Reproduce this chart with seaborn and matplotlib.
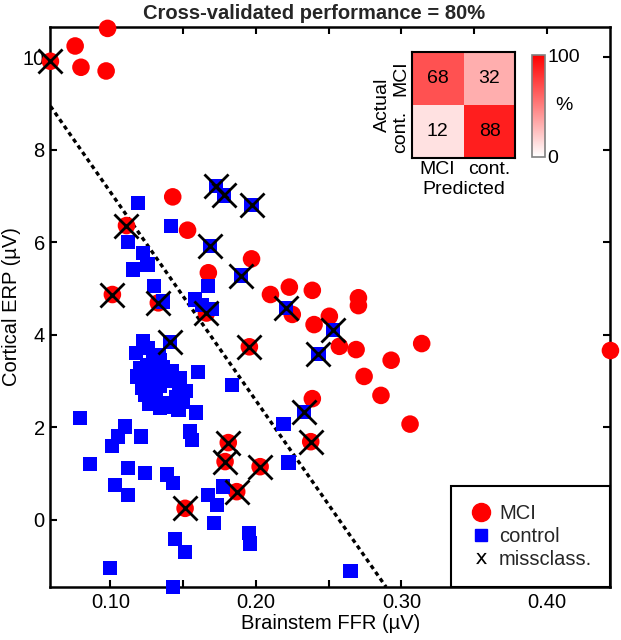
import numpy as np
import pandas as pd
import seaborn as sns
import matplotlib.pyplot as plt
from matplotlib.lines import Line2D
from matplotlib.colors import LinearSegmentedColormap
from matplotlib.ticker import MultipleLocator, FuncFormatter

# MCI group (red circles), miss = misclassified
mci_x = [0.0587, 0.0757, 0.0797, 0.0980, 0.0970, 0.1110, 0.1428, 0.1530, 0.1970, 0.1673,
         0.1013, 0.1329, 0.1660, 0.2100, 0.2230, 0.2388, 0.2250, 0.2705, 0.2705, 0.2505,
         0.2400, 0.2574, 0.2689, 0.1955, 0.3140, 0.2930, 0.2744, 0.2860, 0.3060, 0.2388,
         0.2377, 0.1810, 0.1788, 0.2029, 0.1868, 0.1513, 0.4438]
mci_y = [9.91, 10.24, 9.78, 10.62, 9.70, 6.36, 6.98, 6.26, 5.64, 5.34,
         4.87, 4.69, 4.47, 4.87, 5.03, 4.96, 4.44, 4.80, 4.63, 4.40,
         4.22, 3.75, 3.68, 3.74, 3.81, 3.45, 3.10, 2.69, 2.07, 2.62,
         1.69, 1.67, 1.26, 1.15, 0.61, 0.25, 3.66]
mci_miss = [1, 0, 0, 0, 0, 1, 0, 0, 0, 0,
            1, 1, 1, 0, 0, 0, 0, 0, 0, 0,
            0, 0, 0, 1, 0, 0, 0, 0, 0, 0,
            1, 1, 1, 1, 1, 1, 0]

# control group (blue squares)
ctrl_x = [0.1187, 0.1416, 0.1673, 0.1123, 0.1226, 0.1254, 0.1157, 0.1300, 0.1360, 0.1580,
          0.1630, 0.1700, 0.2190, 0.1834, 0.1600, 0.1590, 0.1547, 0.1560, 0.1226, 0.1260,
          0.1203, 0.1340, 0.1295, 0.1420, 0.1478, 0.1215, 0.1340, 0.1520, 0.1295, 0.1388,
          0.1467, 0.1340, 0.0791, 0.1100, 0.1050, 0.1210, 0.1009, 0.0859, 0.1120, 0.1237,
          0.1387, 0.1430, 0.1031, 0.1120, 0.2224, 0.1776, 0.1670, 0.1730, 0.1710, 0.1444,
          0.1510, 0.1950, 0.1960, 0.0997, 0.1428, 0.2650, 0.1250, 0.1280, 0.1380, 0.1310,
          0.1450, 0.1360, 0.1270, 0.1330, 0.1180, 0.1470, 0.1370, 0.1290, 0.1410, 0.1240,
          0.1500, 0.1175, 0.1265,
          0.1726, 0.1783, 0.1970, 0.1685, 0.1900, 0.2205, 0.2530, 0.2430, 0.2330, 0.1410]
ctrl_y = [6.85, 6.35, 5.05, 6.00, 5.77, 5.52, 5.41, 5.05, 4.72, 4.76,
          4.65, 4.55, 2.08, 2.92, 3.19, 2.32, 1.91, 1.73, 3.86, 3.72,
          3.28, 3.46, 3.14, 3.21, 3.07, 2.85, 2.89, 2.78, 2.63, 2.53,
          2.38, 2.42, 2.20, 2.02, 1.80, 1.80, 1.59, 1.21, 1.12, 1.01,
          0.98, 0.79, 0.76, 0.54, 1.24, 0.72, 0.54, 0.33, -0.06, -0.42,
          -0.69, -0.29, -0.51, -1.04, -1.45, -1.10, 3.35, 3.00, 3.10, 2.75,
          2.65, 3.30, 2.95, 3.55, 3.10, 2.95, 2.45, 3.45, 3.00, 2.70,
          2.55, 3.60, 2.50,
          7.21, 7.01, 6.80, 5.92, 5.28, 4.58, 4.11, 3.59, 2.33, 3.84]
ctrl_miss = [0] * 73 + [1] * 10

boundary_x = [0.0587, 0.2895]
boundary_y = [8.94, -1.45]

conf_labels = ["MCI", "cont."]
conf_values = [[68, 32], [12, 88]]

mci = pd.DataFrame({"x": mci_x, "y": mci_y, "miss": mci_miss})
ctrl = pd.DataFrame({"x": ctrl_x, "y": ctrl_y, "miss": ctrl_miss})
miss = pd.concat([mci[mci.miss == 1], ctrl[ctrl.miss == 1]])

sns.set_theme(style="ticks")
plt.rcParams['font.family'] = ['Liberation Sans', 'DejaVu Sans']
plt.rcParams['font.size'] = 14

fig = plt.figure(figsize=(6.21, 6.4), dpi=100)
ax = fig.add_axes([0.0812, 0.0828, 0.9018, 0.875])

sns.lineplot(x=boundary_x, y=boundary_y, ax=ax, color="black", lw=2.4,
             linestyle=(0, (1.3, 1.1)))
sns.scatterplot(data=mci, x="x", y="y", ax=ax, color="#ff0000", marker="o",
                s=160, edgecolor="none", clip_on=False, zorder=3)
sns.scatterplot(data=ctrl, x="x", y="y", ax=ax, color="#0000ff", marker="s",
                s=105, edgecolor="none", clip_on=False, zorder=4)
sns.scatterplot(data=miss, x="x", y="y", ax=ax, color="black", marker="x",
                s=300, linewidth=2.0, clip_on=False, zorder=5)

ax.set_xlim(0.0587, 0.4438)
ax.set_ylim(-1.45, 10.65)
ax.xaxis.set_major_locator(MultipleLocator(0.05))
ax.xaxis.set_major_formatter(FuncFormatter(
    lambda v, p: f"{v:.2f}" if abs(round(v * 10) - v * 10) < 1e-6 else ""))
ax.yaxis.set_major_locator(MultipleLocator(2))
ax.tick_params(direction="in", length=5, width=1.5, top=True, right=True,
               labelsize=14.5, colors="black", pad=4)
for sp in ax.spines.values():
    sp.set_linewidth(1.8)
    sp.set_color("black")
ax.set_xlabel("Brainstem FFR (µV)", fontsize=14.5, color="black", labelpad=2)
ax.set_ylabel("Cortical ERP (µV)", fontsize=14.5, color="black", labelpad=1)
ax.set_title("Cross-validated performance = 80%", fontsize=14.5,
             fontweight="bold", pad=6, x=0.47)

handles = [
    Line2D([], [], marker="o", color="#ff0000", ls="none", markersize=13),
    Line2D([], [], marker="s", color="#0000ff", ls="none", markersize=9),
    Line2D([], [], marker=r"$\mathrm{x}$", color="black", ls="none",
           markersize=8, markeredgewidth=0),
]
leg = ax.legend(handles, ["MCI", "control", "missclass."], loc="lower right",
                bbox_to_anchor=(1.0, 0.0), borderaxespad=0, frameon=True,
                fancybox=False, edgecolor="black", framealpha=1, fontsize=14.5,
                handletextpad=0.3, labelspacing=0.2, handlelength=1.2,
                borderpad=0.9)
leg.get_frame().set_linewidth(1.5)
leg.set_zorder(6)

# confusion matrix inset
cmap = LinearSegmentedColormap.from_list("wr", ["#ffffff", "#ff0000"])
ins = fig.add_axes([0.663, 0.7527, 0.167, 0.1663])
cax = fig.add_axes([0.857, 0.755, 0.0205, 0.159])
conf_df = pd.DataFrame(conf_values, index=conf_labels, columns=conf_labels)
sns.heatmap(conf_df, ax=ins, cbar_ax=cax, cmap=cmap, vmin=0, vmax=100,
            annot=True, fmt="d", annot_kws={"size": 14, "color": "black"})
ins.set_xticklabels(conf_labels, fontsize=14, color="black")
ins.set_yticklabels(conf_labels, fontsize=14, color="black", rotation=90, va="center")
ins.tick_params(length=0, pad=2)
ins.set_xlabel("Predicted", fontsize=14, color="black", labelpad=2)
ins.set_ylabel("Actual", fontsize=14, color="black", labelpad=1)
for sp in ins.spines.values():
    sp.set_visible(True)
    sp.set_linewidth(1.5)
    sp.set_color("black")
cbar = ins.collections[0].colorbar
cbar.set_ticks([0, 100])
cbar.outline.set_edgecolor("gray")
cbar.outline.set_linewidth(1.2)
cax.tick_params(length=0, labelsize=14, colors="black", pad=2)
cax.set_ylabel("%", rotation=0, fontsize=14, color="black", labelpad=-12, va="center")

fig.savefig("out.png", dpi=100)
